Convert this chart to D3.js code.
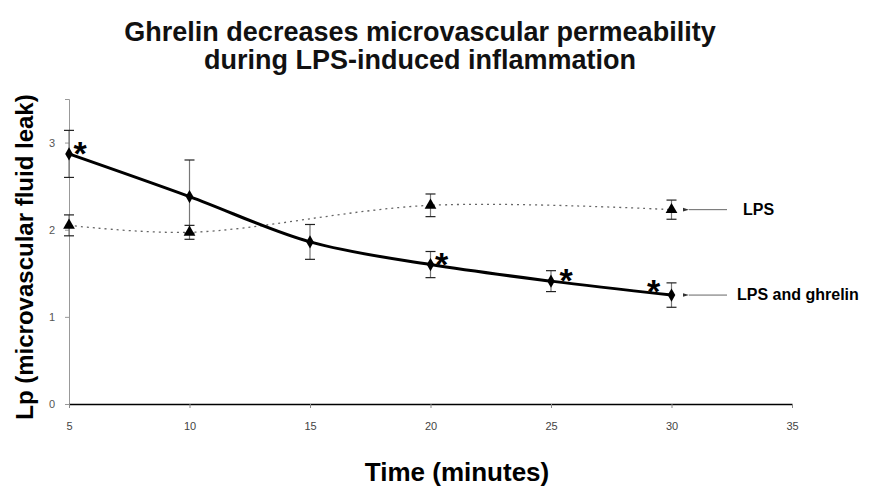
<!DOCTYPE html>
<html>
<head>
<meta charset="utf-8">
<script src="https://cdn.jsdelivr.net/npm/d3@7"></script>
<style>
  body { margin: 0; background: #fff; }
  svg text { font-family: "Liberation Sans", Arial, sans-serif; }
</style>
</head>
<body>
<svg id="chart" width="871" height="487"></svg>
<script>
// data
var times = [5, 10, 15, 20, 25, 30];
var lpsMean = [2.05, 1.97, null, 2.28, null, 2.23];
var lpsErr = [0.12, 0.08, null, 0.13, null, 0.11];
var ghrelinMean = [2.87, 2.38, 1.86, 1.60, 1.41, 1.25];
var ghrelinErr = [0.27, 0.42, 0.20, 0.15, 0.12, 0.14];
var starAt = [5, 20, 25, 30];
var xTicks = [5, 10, 15, 20, 25, 30, 35];
var yTicks = [0, 1, 2, 3];

var svg = d3.select('#chart');

var x = d3.scaleLinear().domain([5, 35]).range([69, 792]);
var y = d3.scaleLinear().domain([0, 3.5]).range([404, 99]);

// title
svg.append('text')
  .attr('x', 420).attr('y', 41)
  .attr('text-anchor', 'middle')
  .attr('font-size', 27).attr('font-weight', 'bold')
  .attr('fill', '#111')
  .text('Ghrelin decreases microvascular permeability');
svg.append('text')
  .attr('x', 420).attr('y', 69)
  .attr('text-anchor', 'middle')
  .attr('font-size', 27).attr('font-weight', 'bold')
  .attr('fill', '#111')
  .text('during LPS-induced inflammation');

// axes
var yAxis = svg.append('g')
  .attr('transform', 'translate(' + x(5) + ',0)')
  .call(d3.axisLeft(y).tickValues(yTicks).tickSize(4).tickFormat(d3.format('d')));
yAxis.select('.domain').attr('stroke', '#999');
yAxis.selectAll('.tick line').attr('stroke', '#999');
yAxis.selectAll('.tick text').attr('fill', '#555').attr('font-size', 11).attr('x', -14);

var xAxis = svg.append('g')
  .attr('transform', 'translate(0,' + y(0) + ')')
  .call(d3.axisBottom(x).tickValues(xTicks).tickSize(4).tickSizeOuter(0));
xAxis.select('.domain').attr('stroke', '#000').attr('stroke-width', 1.5);
xAxis.selectAll('.tick line').attr('stroke', '#888');
xAxis.selectAll('.tick text').attr('fill', '#444').attr('font-size', 11).attr('y', 18);

// axis titles
svg.append('text')
  .attr('x', 457).attr('y', 481)
  .attr('text-anchor', 'middle')
  .attr('font-size', 26).attr('font-weight', 'bold')
  .text('Time (minutes)');
svg.append('text')
  .attr('transform', 'translate(33,257) rotate(-90)')
  .attr('text-anchor', 'middle')
  .attr('font-size', 24).attr('font-weight', 'bold')
  .text('Lp (microvascular fluid leak)');

var lps = times.map(function(t, i) { return {t: t, v: lpsMean[i], e: lpsErr[i]}; })
  .filter(function(d) { return d.v !== null; });
var ghr = times.map(function(t, i) { return {t: t, v: ghrelinMean[i], e: ghrelinErr[i]}; });

var line = d3.line()
  .x(function(d) { return x(d.t); })
  .y(function(d) { return y(d.v); })
  .curve(d3.curveCatmullRom.alpha(0.5));

// LPS dotted smoothed line
svg.append('path')
  .datum(lps)
  .attr('d', line)
  .attr('fill', 'none')
  .attr('stroke', '#666')
  .attr('stroke-width', 1.3)
  .attr('stroke-dasharray', '2,4');

// LPS + ghrelin thick line
svg.append('path')
  .datum(ghr)
  .attr('d', line)
  .attr('fill', 'none')
  .attr('stroke', '#000')
  .attr('stroke-width', 3);

function errorBars(data, color) {
  var g = svg.append('g').attr('stroke', color).attr('stroke-width', 1.2);
  g.selectAll('line.v').data(data).enter().append('line')
    .attr('x1', function(d) { return x(d.t); })
    .attr('x2', function(d) { return x(d.t); })
    .attr('y1', function(d) { return y(d.v + d.e); })
    .attr('y2', function(d) { return y(d.v - d.e); });
  [1, -1].forEach(function(s) {
    g.selectAll('line.c' + s).data(data).enter().append('line')
      .attr('x1', function(d) { return x(d.t) - 5; })
      .attr('x2', function(d) { return x(d.t) + 5; })
      .attr('y1', function(d) { return y(d.v + s * d.e); })
      .attr('y2', function(d) { return y(d.v + s * d.e); })
      .attr('stroke', '#222');
  });
}
errorBars(ghr, '#777');
errorBars(lps, '#777');

// markers
svg.append('g').selectAll('path').data(lps).enter().append('path')
  .attr('d', d3.symbol().type(d3.symbolTriangle).size(60))
  .attr('transform', function(d) { return 'translate(' + x(d.t) + ',' + y(d.v) + ')'; })
  .attr('fill', '#000');
svg.append('g').selectAll('path').data(ghr).enter().append('path')
  .attr('d', d3.symbol().type(d3.symbolDiamond).size(50))
  .attr('transform', function(d) { return 'translate(' + x(d.t) + ',' + y(d.v) + ')'; })
  .attr('fill', '#000');

// significance stars (offset of star centre from its point)
var starOffset = {5: [11, -9], 20: [11, -9], 25: [15, -9], 30: [-18, -12]};
svg.append('g').selectAll('text')
  .data(ghr.filter(function(d) { return starAt.indexOf(d.t) >= 0; }))
  .enter().append('text')
  .attr('x', function(d) { return x(d.t) + starOffset[d.t][0]; })
  .attr('y', function(d) { return y(d.v) + starOffset[d.t][1] + 20; })
  .attr('text-anchor', 'middle')
  .attr('font-size', 34).attr('font-weight', 'bold')
  .text('*');

// callout arrows and labels
var last = times.length - 1;
var callouts = [
  {v: lpsMean[last], label: 'LPS', tx: 743},
  {v: ghrelinMean[last], label: 'LPS and ghrelin', tx: 737}
];
svg.append('defs').append('marker')
  .attr('id', 'arr').attr('viewBox', '0 0 10 10')
  .attr('refX', 0).attr('refY', 5)
  .attr('markerWidth', 6).attr('markerHeight', 6)
  .attr('orient', 'auto-start-reverse')
  .append('path').attr('d', 'M10,2 L0,5 L10,8 Z').attr('fill', '#333');
callouts.forEach(function(c) {
  svg.append('line')
    .attr('x1', 727).attr('x2', 689)
    .attr('y1', y(c.v)).attr('y2', y(c.v))
    .attr('stroke', '#666').attr('stroke-width', 1)
    .attr('marker-end', 'url(#arr)');
  svg.append('text')
    .attr('x', c.tx).attr('y', y(c.v) + 5)
    .attr('font-size', 16).attr('font-weight', 'bold')
    .text(c.label);
});
</script>
</body>
</html>
